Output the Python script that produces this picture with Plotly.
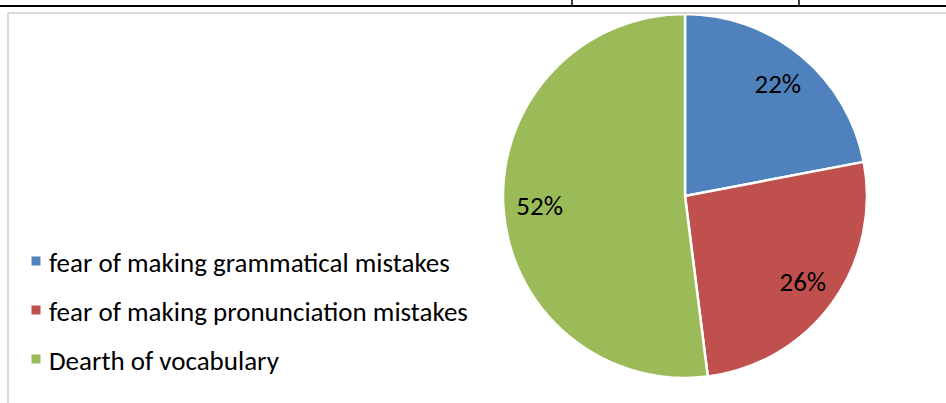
import plotly.graph_objects as go

# Survey shares of the reasons students give for not speaking
categories = [
    "fear of making grammatical mistakes",
    "fear of making pronunciation mistakes",
    "Dearth of vocabulary",
]
shares = [22, 26, 52]
slice_colors = ["#4F81BD", "#C0504D", "#9BBB59"]

W, H = 946, 403
FONT = "Calibri, Carlito, Lato, sans-serif"
LEGEND_SIZE = 27
LABEL_SIZE = 27


def fx(px):
    """Pixel column -> paper x."""
    return px / W


def fy(py):
    """Pixel row (from top) -> paper y."""
    return 1 - py / H


pie_domain = dict(x=[fx(503), fx(867)], y=[fy(378), fy(14)])

fig = go.Figure()

# Filled pie slices
fig.add_trace(go.Pie(
    labels=categories,
    values=shares,
    sort=False,
    direction="clockwise",
    rotation=0,
    marker=dict(colors=slice_colors, line=dict(color="white", width=2.5)),
    textinfo="none",
    hoverinfo="label+percent",
    domain=pie_domain,
    showlegend=False,
))

# Transparent ring on top that carries the percentage labels near the rim
fig.add_trace(go.Pie(
    labels=categories,
    values=shares,
    sort=False,
    direction="clockwise",
    rotation=0,
    hole=0.6,
    marker=dict(colors=["rgba(0,0,0,0)"] * len(shares), line=dict(width=0)),
    texttemplate="%{percent:.0%}",
    textposition="inside",
    insidetextorientation="horizontal",
    textfont=dict(family=FONT, size=LABEL_SIZE, color="black"),
    hoverinfo="skip",
    domain=pie_domain,
    showlegend=False,
))

shapes = []
annotations = []

# Legend: colour square + label per category
row0, row_step = 261, 49
for i, (name, color) in enumerate(zip(categories, slice_colors)):
    yc = row0 + i * row_step
    shapes.append(dict(
        type="rect", xref="paper", yref="paper",
        x0=fx(31.5), x1=fx(40.5), y0=fy(yc + 4.5), y1=fy(yc - 4.5),
        fillcolor=color, line=dict(width=0),
    ))
    annotations.append(dict(
        xref="paper", yref="paper", x=fx(46.5), y=fy(yc + 1),
        text=name, showarrow=False, xanchor="left", yanchor="middle",
        font=dict(family=FONT, size=LEGEND_SIZE, color="black"),
    ))

# Chart frame (light grey) and the surrounding table rules (black)
shapes += [
    dict(type="line", xref="paper", yref="paper", x0=fx(8), x1=fx(W + 5),
         y0=fy(13), y1=fy(13), line=dict(color="#D9D9D9", width=2)),
    dict(type="line", xref="paper", yref="paper", x0=fx(8), x1=fx(8),
         y0=fy(13), y1=fy(H + 5), line=dict(color="#D9D9D9", width=2)),
    dict(type="line", xref="paper", yref="paper", x0=fx(-2), x1=fx(W + 2),
         y0=fy(6), y1=fy(6), line=dict(color="black", width=2)),
    dict(type="line", xref="paper", yref="paper", x0=fx(572), x1=fx(572),
         y0=fy(-2), y1=fy(6), line=dict(color="black", width=1.5)),
    dict(type="line", xref="paper", yref="paper", x0=fx(799), x1=fx(799),
         y0=fy(-2), y1=fy(6), line=dict(color="black", width=1.5)),
]

fig.update_layout(
    width=W,
    height=H,
    margin=dict(l=0, r=0, t=0, b=0),
    paper_bgcolor="white",
    plot_bgcolor="white",
    shapes=shapes,
    annotations=annotations,
    showlegend=False,
)

fig.write_html("out.html")
